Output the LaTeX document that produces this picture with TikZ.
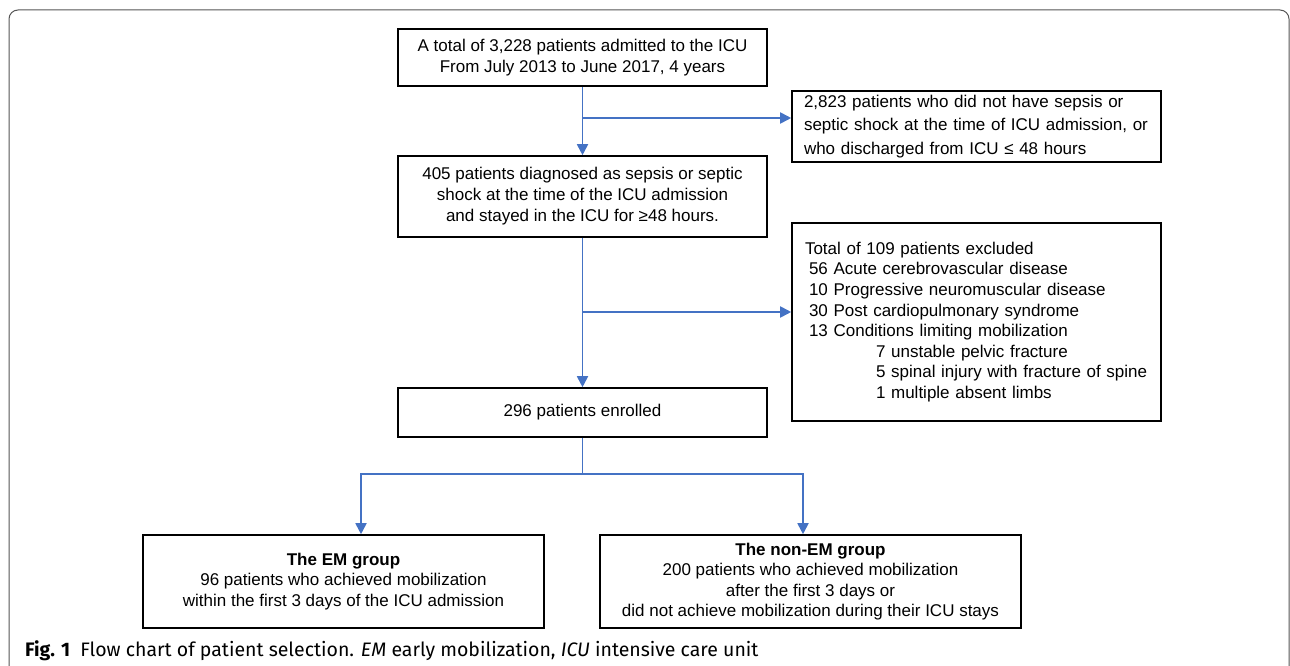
\documentclass[tikz,border=0pt]{standalone}
\usepackage{fontspec}
\setmainfont{Liberation Sans}
\newfontfamily\capfont{Fira Sans}
\usetikzlibrary{arrows.meta}
\definecolor{flowblue}{HTML}{4472C4}
\definecolor{framegray}{HTML}{555555}

\begin{document}
\begin{tikzpicture}[x=1pt,y=-1pt,
  box/.style={draw, line width=1.6pt, align=center, inner sep=0pt, font=\fontsize{17}{21}\selectfont},
  flow/.style={draw=flowblue, line width=1.8pt, -{Triangle[length=11pt,width=11pt]}},
  link/.style={draw=flowblue, line width=1.8pt}]
\useasboundingbox (0,0) rectangle (1290,666);
\draw[framegray, line width=1pt, rounded corners=9pt] (9,672) -- (9,10) -- (1289,10) -- (1289,672);

\node[box, minimum width=369pt, minimum height=57pt] (adm) at (582.5,57.5) {A total of 3,228 patients admitted to the ICU\\From July 2013 to June 2017, 4 years};
\node[box, align=left, text width=345pt, inner xsep=12pt, minimum height=71pt, font=\fontsize{17}{23.3}\selectfont] (excl1) at (976.5,126.5) {2,823 patients who did not have sepsis or\\septic shock at the time of ICU admission, or\\who discharged from ICU ≤ 48 hours};
\node[box, minimum width=369pt, minimum height=81pt] (sepsis) at (582.5,196.5) {405 patients diagnosed as sepsis or septic\\shock at the time of the ICU admission\\and stayed in the ICU for ≥48 hours.};
\node[box, align=left, text width=343pt, inner xsep=13pt, minimum height=198pt, font=\fontsize{17}{20.6}\selectfont] (excl2) at (976.5,322) {Total of 109 patients excluded\\
\hspace*{4pt}56 Acute cerebrovascular disease\\
\hspace*{4pt}10 Progressive neuromuscular disease\\
\hspace*{4pt}30 Post cardiopulmonary syndrome\\
\hspace*{4pt}13 Conditions limiting mobilization\\
\hspace*{71pt}7 unstable pelvic fracture\\
\hspace*{71pt}5 spinal injury with fracture of spine\\
\hspace*{71pt}1 multiple absent limbs};
\node[box, minimum width=369pt, minimum height=49pt] (enrolled) at (582.5,412.5) {296 patients enrolled};
\node[box, minimum width=401pt, minimum height=93pt, font=\fontsize{17}{20.5}\selectfont] (em) at (343.5,581.5) {\textbf{The EM group}\\96 patients who achieved mobilization\\within the first 3 days of the ICU admission};
\node[box, minimum width=421pt, minimum height=93pt, font=\fontsize{17}{20.5}\selectfont] (nonem) at (810.5,581.5) {\textbf{The non-EM group}\\200 patients who achieved mobilization\\after the first 3 days or\\did not achieve mobilization during their ICU stays};

\node[anchor=west, inner sep=0pt, font=\capfont\fontsize{19.5}{23}\selectfont] (cap) at (25,651) {\textbf{Fig. 1}\hspace{10pt}Flow chart of patient selection. \textit{EM} early mobilization, \textit{ICU} intensive care unit};

\coordinate (b1) at (582.5,118);
\coordinate (b2) at (582.5,312);
\coordinate (split) at (582.5,474);
\draw[flow] (adm) -- (sepsis);
\draw[flow] (b1) -- (excl1.west |- b1);
\draw[flow] (sepsis) -- (enrolled);
\draw[flow] (b2) -- (excl2.west |- b2);
\draw[link] (enrolled) -- (split);
\draw[flow] (split) -| ([xshift=17.5pt]em.north);
\draw[flow] (split) -| ([xshift=-7.5pt]nonem.north);
\end{tikzpicture}
\end{document}
